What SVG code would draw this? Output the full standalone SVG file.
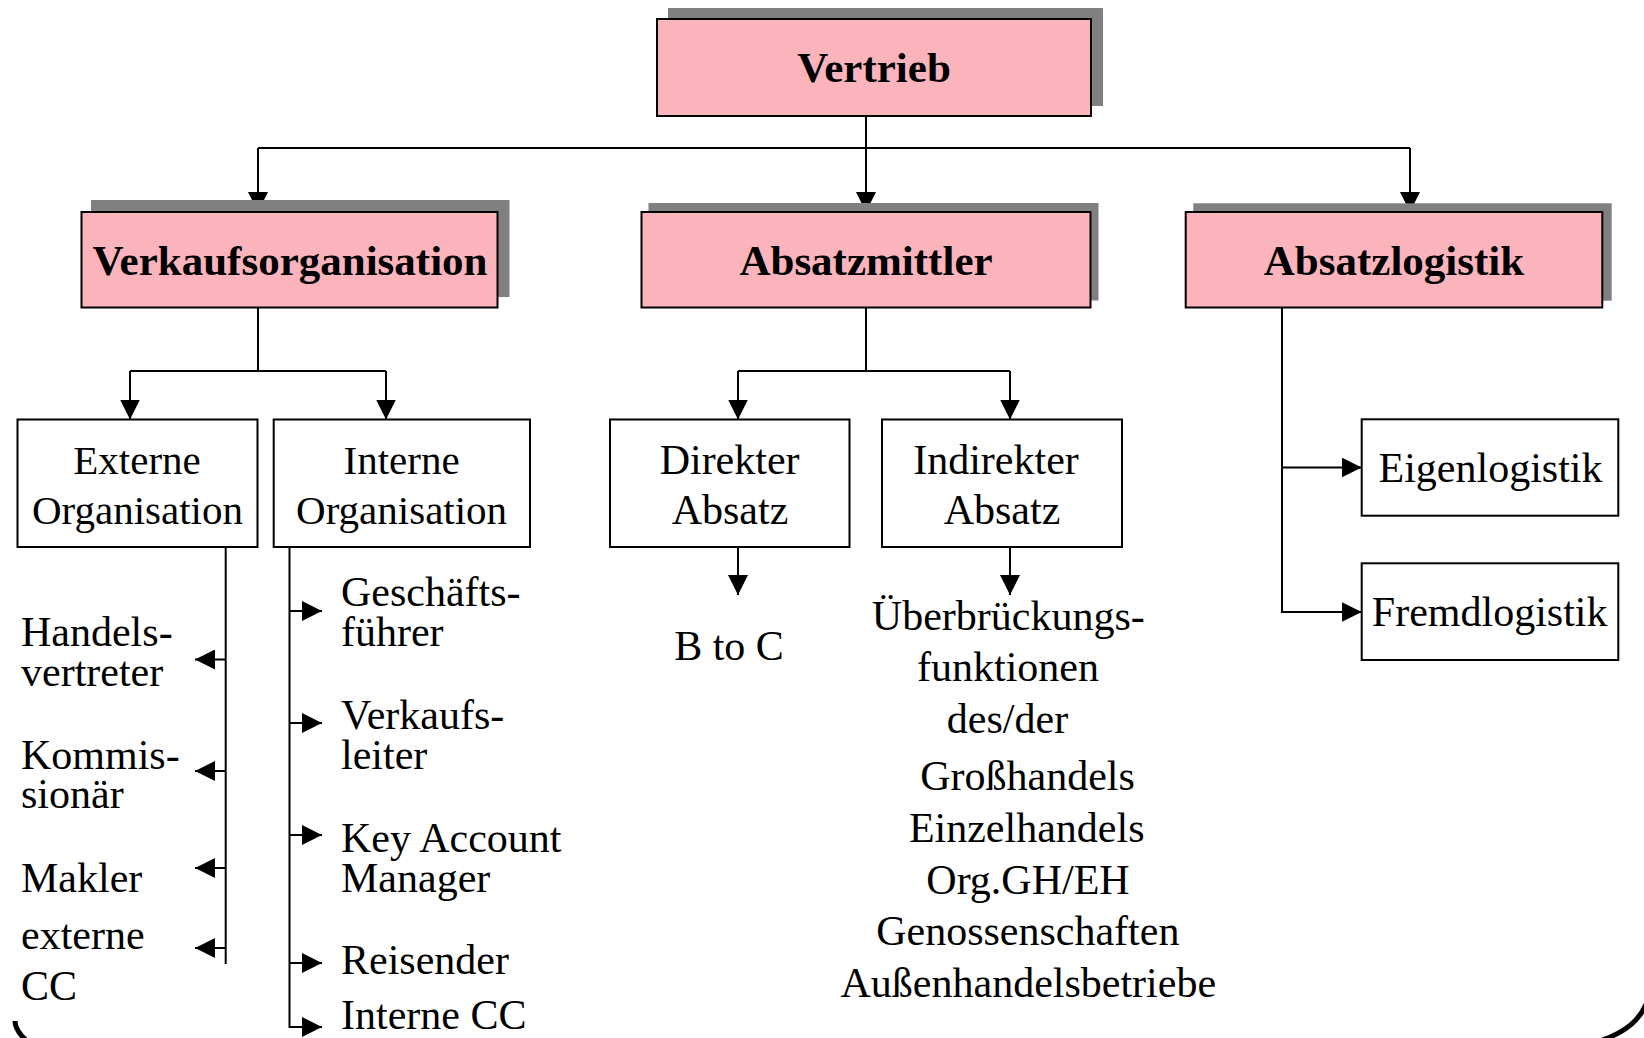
<svg xmlns="http://www.w3.org/2000/svg" width="1644" height="1038" viewBox="0 0 1644 1038">
  <defs>
    <marker id="arrow" markerUnits="userSpaceOnUse" markerWidth="20" markerHeight="20" refX="20" refY="10" orient="auto">
      <path d="M0,0 L20,10 L0,20 Z" fill="#000"/>
    </marker>
  </defs>
  <style>
    .shadow { fill: #808080; }
    .head { fill: #FBB4BC; stroke: #000; stroke-width: 2; }
    .box { fill: #fff; stroke: #000; stroke-width: 2; }
    .edge { fill: none; stroke: #000; stroke-width: 2; marker-end: url(#arrow); }
    .line { fill: none; stroke: #000; stroke-width: 2; }
    .frame { fill: none; stroke: #000; stroke-width: 5; }
    text { font-family: "Liberation Serif", "Times New Roman", serif; fill: #000; }
    .hb { font-size: 43px; font-weight: bold; text-anchor: middle; }
    .t { font-size: 42px; }
    .c { text-anchor: middle; }
    .s41 { font-size: 41px; }
  </style>

  <rect width="1644" height="1038" fill="#fff"/>

  <!-- connectors -->
  <g id="connectors">
    <!-- Vertrieb to the three departments -->
    <path class="line" d="M866,116 V148 M258,148 H1410"/>
    <path class="edge" d="M258,148 V212"/>
    <path class="edge" d="M866,148 V212"/>
    <path class="edge" d="M1410,148 V212"/>
    <!-- Verkaufsorganisation -->
    <path class="line" d="M258,307.5 V371 M130,371 H386"/>
    <path class="edge" d="M130,371 V419.5"/>
    <path class="edge" d="M386,371 V419.5"/>
    <!-- Absatzmittler -->
    <path class="line" d="M866,307.5 V371 M738,371 H1010"/>
    <path class="edge" d="M738,371 V419.5"/>
    <path class="edge" d="M1010,371 V419.5"/>
    <path class="edge" d="M738,547 V595"/>
    <path class="edge" d="M1010,547 V595"/>
    <!-- Absatzlogistik -->
    <path class="line" d="M1282,307.5 V467.5"/>
    <path class="edge" d="M1282,467.5 H1361.7"/>
    <path class="edge" d="M1282,467.5 V612 H1361.7"/>
    <!-- externe Organisation list -->
    <path class="line" d="M225.7,547 V964"/>
    <path class="edge" d="M225.7,659.5 H195"/>
    <path class="edge" d="M225.7,771 H195"/>
    <path class="edge" d="M225.7,868 H195"/>
    <path class="edge" d="M225.7,948 H195"/>
    <!-- interne Organisation list -->
    <path class="line" d="M289.5,547 V963"/>
    <path class="edge" d="M289.5,611 H322"/>
    <path class="edge" d="M289.5,723 H322"/>
    <path class="edge" d="M289.5,835 H322"/>
    <path class="edge" d="M289.5,963 H322"/>
    <path class="edge" d="M289.5,963 V1027 H322"/>
  </g>

  <g id="vertrieb">
    <rect class="shadow" x="668" y="8" width="435" height="98"/>
    <rect class="head" x="657" y="19" width="434" height="97"/>
    <text class="hb" x="874" y="82">Vertrieb</text>
  </g>

  <g id="verkaufsorganisation">
    <rect class="shadow" x="91" y="200" width="418.5" height="97"/>
    <rect class="head" x="81.5" y="212" width="416" height="95.5"/>
    <text class="hb" x="290" y="275">Verkaufsorganisation</text>
  </g>

  <g id="absatzmittler">
    <rect class="shadow" x="648.5" y="203" width="450" height="97.5"/>
    <rect class="head" x="641.5" y="212" width="449" height="95.5"/>
    <text class="hb" x="866" y="275">Absatzmittler</text>
  </g>

  <g id="absatzlogistik">
    <rect class="shadow" x="1193.3" y="203.3" width="418.4" height="97.4"/>
    <rect class="head" x="1185.7" y="212" width="416.6" height="95.5"/>
    <text class="hb" x="1394" y="275">Absatzlogistik</text>
  </g>

  <g id="externe-organisation">
    <rect class="box" x="17.5" y="419.5" width="240" height="127.5"/>
    <text class="t s41 c"><tspan x="137" y="474">Externe</tspan><tspan x="137.5" y="524">Organisation</tspan></text>
  </g>

  <g id="interne-organisation">
    <rect class="box" x="273.7" y="419.5" width="256.3" height="127.5"/>
    <text class="t s41 c"><tspan x="401.6" y="474">Interne</tspan><tspan x="401.6" y="524">Organisation</tspan></text>
  </g>

  <g id="direkter-absatz">
    <rect class="box" x="610" y="419.5" width="239.5" height="127.5"/>
    <text class="t c"><tspan x="729.6" y="474">Direkter</tspan><tspan x="730" y="524">Absatz</tspan></text>
  </g>

  <g id="indirekter-absatz">
    <rect class="box" x="882" y="419.5" width="240" height="127.5"/>
    <text class="t c"><tspan x="996" y="474">Indirekter</tspan><tspan x="1002" y="524">Absatz</tspan></text>
  </g>

  <g id="eigenlogistik">
    <rect class="box" x="1361.7" y="419.3" width="256.6" height="96.4"/>
    <text class="t c" x="1490.5" y="482">Eigenlogistik</text>
  </g>

  <g id="fremdlogistik">
    <rect class="box" x="1361.7" y="563.3" width="256.6" height="96.7"/>
    <text class="t c" x="1489.7" y="625.5">Fremdlogistik</text>
  </g>

  <g id="externe-liste">
    <text class="t"><tspan x="21" y="646">Handels-</tspan><tspan x="21" y="686">vertreter</tspan></text>
    <text class="t"><tspan x="21" y="769">Kommis-</tspan><tspan x="21" y="808">sionär</tspan></text>
    <text class="t" x="21" y="892">Makler</text>
    <text class="t"><tspan x="21" y="949">externe</tspan><tspan x="21" y="1000">CC</tspan></text>
  </g>

  <g id="interne-liste">
    <text class="t"><tspan x="341" y="606">Geschäfts-</tspan><tspan x="341" y="646">führer</tspan></text>
    <text class="t"><tspan x="341" y="729">Verkaufs-</tspan><tspan x="341" y="769">leiter</tspan></text>
    <text class="t"><tspan x="341" y="852">Key Account</tspan><tspan x="341" y="892">Manager</tspan></text>
    <text class="t" x="341" y="974">Reisender</text>
    <text class="t" x="341" y="1029">Interne CC</text>
  </g>

  <g id="b-to-c">
    <text class="t c" x="729" y="660">B to C</text>
  </g>

  <g id="ueberbrueckungsfunktionen">
    <text class="t c"><tspan x="1008.3" y="630">Überbrückungs-</tspan><tspan x="1008" y="681">funktionen</tspan><tspan x="1007.5" y="733">des/der</tspan><tspan x="1027.5" y="790">Großhandels</tspan><tspan x="1026.7" y="842">Einzelhandels</tspan><tspan x="1028" y="893.5">Org.GH/EH</tspan><tspan x="1027.8" y="945">Genossenschaften</tspan><tspan x="1028.3" y="997">Außenhandelsbetriebe</tspan></text>
  </g>

  <!-- lower corners of the slide frame -->
  <g id="frame">
    <path class="frame" d="M15,1021 C15,1028 19,1034 27,1041"/>
    <path class="frame" d="M1647,1002 C1640,1020 1626,1032 1600,1041"/>
  </g>
</svg>
